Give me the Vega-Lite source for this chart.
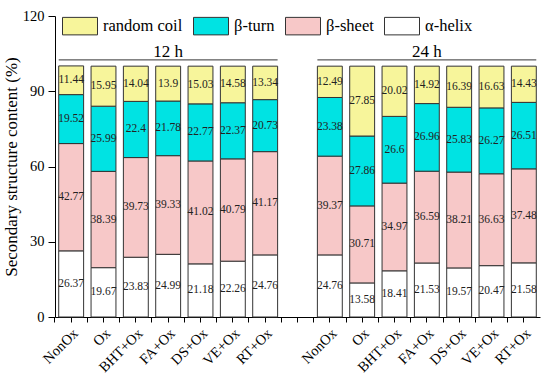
{
  "$schema": "https://vega.github.io/schema/vega-lite/v6.json",
  "autosize": {"type": "none"},
  "padding": {"left": 55, "top": 16, "right": 10, "bottom": 61},
  "width": 485,
  "height": 301,
  "background": "white",
  "config": {
    "view": {"stroke": null},
    "font": "Liberation Serif",
    "axis": {"grid": false, "domainColor": "#000", "tickColor": "#000", "labelColor": "#000", "titleColor": "#000", "labelFont": "Liberation Serif", "titleFont": "Liberation Serif", "titleFontWeight": "normal"},
    "legend": {"labelFont": "Liberation Serif", "labelColor": "#000"}
  },
  "datasets": {
    "ss": [
      {"key": "12|NonOx", "type": "α-helix", "rank": 1, "value": 26.37},
      {"key": "12|NonOx", "type": "β-sheet", "rank": 2, "value": 42.77},
      {"key": "12|NonOx", "type": "β-turn", "rank": 3, "value": 19.52},
      {"key": "12|NonOx", "type": "random coil", "rank": 4, "value": 11.44},
      {"key": "12|Ox", "type": "α-helix", "rank": 1, "value": 19.67},
      {"key": "12|Ox", "type": "β-sheet", "rank": 2, "value": 38.39},
      {"key": "12|Ox", "type": "β-turn", "rank": 3, "value": 25.99},
      {"key": "12|Ox", "type": "random coil", "rank": 4, "value": 15.95},
      {"key": "12|BHT+Ox", "type": "α-helix", "rank": 1, "value": 23.83},
      {"key": "12|BHT+Ox", "type": "β-sheet", "rank": 2, "value": 39.73},
      {"key": "12|BHT+Ox", "type": "β-turn", "rank": 3, "value": 22.4},
      {"key": "12|BHT+Ox", "type": "random coil", "rank": 4, "value": 14.04},
      {"key": "12|FA+Ox", "type": "α-helix", "rank": 1, "value": 24.99},
      {"key": "12|FA+Ox", "type": "β-sheet", "rank": 2, "value": 39.33},
      {"key": "12|FA+Ox", "type": "β-turn", "rank": 3, "value": 21.78},
      {"key": "12|FA+Ox", "type": "random coil", "rank": 4, "value": 13.9},
      {"key": "12|DS+Ox", "type": "α-helix", "rank": 1, "value": 21.18},
      {"key": "12|DS+Ox", "type": "β-sheet", "rank": 2, "value": 41.02},
      {"key": "12|DS+Ox", "type": "β-turn", "rank": 3, "value": 22.77},
      {"key": "12|DS+Ox", "type": "random coil", "rank": 4, "value": 15.03},
      {"key": "12|VE+Ox", "type": "α-helix", "rank": 1, "value": 22.26},
      {"key": "12|VE+Ox", "type": "β-sheet", "rank": 2, "value": 40.79},
      {"key": "12|VE+Ox", "type": "β-turn", "rank": 3, "value": 22.37},
      {"key": "12|VE+Ox", "type": "random coil", "rank": 4, "value": 14.58},
      {"key": "12|RT+Ox", "type": "α-helix", "rank": 1, "value": 24.76},
      {"key": "12|RT+Ox", "type": "β-sheet", "rank": 2, "value": 41.17},
      {"key": "12|RT+Ox", "type": "β-turn", "rank": 3, "value": 20.73},
      {"key": "12|RT+Ox", "type": "random coil", "rank": 4, "value": 13.34},
      {"key": "24|NonOx", "type": "α-helix", "rank": 1, "value": 24.76},
      {"key": "24|NonOx", "type": "β-sheet", "rank": 2, "value": 39.37},
      {"key": "24|NonOx", "type": "β-turn", "rank": 3, "value": 23.38},
      {"key": "24|NonOx", "type": "random coil", "rank": 4, "value": 12.49},
      {"key": "24|Ox", "type": "α-helix", "rank": 1, "value": 13.58},
      {"key": "24|Ox", "type": "β-sheet", "rank": 2, "value": 30.71},
      {"key": "24|Ox", "type": "β-turn", "rank": 3, "value": 27.86},
      {"key": "24|Ox", "type": "random coil", "rank": 4, "value": 27.85},
      {"key": "24|BHT+Ox", "type": "α-helix", "rank": 1, "value": 18.41},
      {"key": "24|BHT+Ox", "type": "β-sheet", "rank": 2, "value": 34.97},
      {"key": "24|BHT+Ox", "type": "β-turn", "rank": 3, "value": 26.6},
      {"key": "24|BHT+Ox", "type": "random coil", "rank": 4, "value": 20.02},
      {"key": "24|FA+Ox", "type": "α-helix", "rank": 1, "value": 21.53},
      {"key": "24|FA+Ox", "type": "β-sheet", "rank": 2, "value": 36.59},
      {"key": "24|FA+Ox", "type": "β-turn", "rank": 3, "value": 26.96},
      {"key": "24|FA+Ox", "type": "random coil", "rank": 4, "value": 14.92},
      {"key": "24|DS+Ox", "type": "α-helix", "rank": 1, "value": 19.57},
      {"key": "24|DS+Ox", "type": "β-sheet", "rank": 2, "value": 38.21},
      {"key": "24|DS+Ox", "type": "β-turn", "rank": 3, "value": 25.83},
      {"key": "24|DS+Ox", "type": "random coil", "rank": 4, "value": 16.39},
      {"key": "24|VE+Ox", "type": "α-helix", "rank": 1, "value": 20.47},
      {"key": "24|VE+Ox", "type": "β-sheet", "rank": 2, "value": 36.63},
      {"key": "24|VE+Ox", "type": "β-turn", "rank": 3, "value": 26.27},
      {"key": "24|VE+Ox", "type": "random coil", "rank": 4, "value": 16.63},
      {"key": "24|RT+Ox", "type": "α-helix", "rank": 1, "value": 21.58},
      {"key": "24|RT+Ox", "type": "β-sheet", "rank": 2, "value": 37.48},
      {"key": "24|RT+Ox", "type": "β-turn", "rank": 3, "value": 26.51},
      {"key": "24|RT+Ox", "type": "random coil", "rank": 4, "value": 14.43}
    ],
    "groups": [
      {"group": "12 h", "center": "12|FA+Ox", "start": "12|NonOx", "end": "12|RT+Ox"},
      {"group": "24 h", "center": "24|FA+Ox", "start": "24|NonOx", "end": "24|RT+Ox"}
    ]
  },
  "resolve": {"axis": {"x": "independent"}},
  "layer": [
    {
      "data": {"name": "ss"},
      "transform": [
        {"stack": "value", "groupby": ["key"], "sort": [{"field": "rank", "order": "ascending"}], "as": ["y0", "y1"]}
      ],
      "mark": {"type": "bar", "width": {"band": 0.77}, "stroke": "#333", "strokeWidth": 1},
      "encoding": {
        "x": {
          "field": "key", "type": "nominal",
          "scale": {"domain": ["12|NonOx", "12|Ox", "12|BHT+Ox", "12|FA+Ox", "12|DS+Ox", "12|VE+Ox", "12|RT+Ox", "gap", "24|NonOx", "24|Ox", "24|BHT+Ox", "24|FA+Ox", "24|DS+Ox", "24|VE+Ox", "24|RT+Ox"], "paddingInner": 0, "paddingOuter": 0},
          "axis": {"orient": "bottom", "title": null, "labelAngle": -45, "labelAlign": "right", "labelBaseline": "top", "labelFontSize": 14.5, "labelPadding": 4, "tickSize": 5, "labelExpr": "datum.value == 'gap' ? '' : split(datum.value, '|')[1]"}
        },
        "y": {
          "field": "y0", "type": "quantitative",
          "scale": {"domain": [0, 120], "nice": false},
          "title": "Secondary structure content (%)",
          "axis": {"values": [0, 15, 30, 45, 60, 75, 90, 105, 120], "labelExpr": "datum.value % 30 == 0 ? datum.label : ''", "tickSize": 7, "labelPadding": 4, "labelFontSize": 14.5, "titleFontSize": 17, "titlePadding": 2}
        },
        "y2": {"field": "y1"},
        "color": {
          "field": "type", "type": "nominal",
          "scale": {"domain": ["random coil", "β-turn", "β-sheet", "α-helix"], "range": ["#F7F59B", "#00E3E3", "#F7C8C8", "#FFFFFF"]},
          "legend": {"title": null, "orient": "none", "legendX": 7, "legendY": -8, "direction": "horizontal", "padding": 0, "symbolType": "M-1,-0.5H1V0.5H-1Z", "symbolSize": 1225, "symbolStrokeColor": "#333", "symbolStrokeWidth": 1, "symbolOpacity": 1, "labelFontSize": 16.5, "labelOffset": 5, "columnPadding": 8}
        }
      }
    },
    {
      "data": {"name": "ss"},
      "transform": [
        {"stack": "value", "groupby": ["key"], "sort": [{"field": "rank", "order": "ascending"}], "as": ["y0", "y1"]},
        {"calculate": "(datum.y0 + datum.y1) / 2", "as": "mid"}
      ],
      "mark": {"type": "text", "fontSize": 11.5, "font": "Liberation Serif", "color": "#222"},
      "encoding": {
        "x": {"field": "key", "type": "nominal", "axis": null},
        "y": {"field": "mid", "type": "quantitative", "title": "Secondary structure content (%)"},
        "text": {"field": "value", "type": "nominal"}
      }
    },
    {
      "data": {"name": "groups"},
      "mark": {"type": "rule", "color": "#333", "strokeWidth": 1},
      "encoding": {
        "x": {"field": "start", "type": "nominal", "bandPosition": 0.115, "axis": {"orient": "bottom", "title": null, "labels": false, "domain": false, "tickSize": 5, "bandPosition": 0}},
        "x2": {"field": "end", "bandPosition": 0.885},
        "y": {"datum": 102.5, "type": "quantitative", "title": "Secondary structure content (%)"}
      }
    },
    {
      "data": {"name": "groups"},
      "mark": {"type": "text", "fontSize": 17, "font": "Liberation Serif", "color": "#000"},
      "encoding": {
        "x": {"field": "center", "type": "nominal", "axis": null},
        "y": {"datum": 105.6, "type": "quantitative", "title": "Secondary structure content (%)"},
        "text": {"field": "group"}
      }
    }
  ]
}
